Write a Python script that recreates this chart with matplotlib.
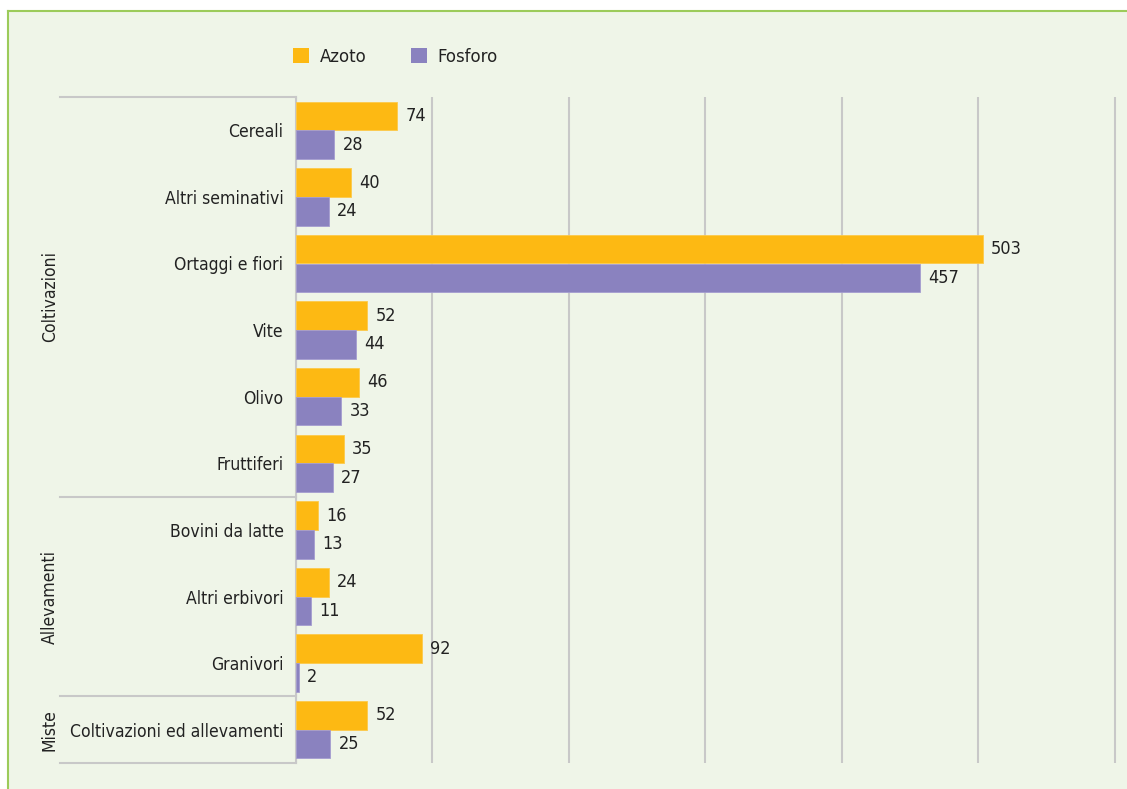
import matplotlib
matplotlib.use("Agg")
import matplotlib.pyplot as plt
import matplotlib.transforms as mtransforms
from matplotlib.patches import Rectangle, Patch
from matplotlib.lines import Line2D

plt.rcParams['font.family'] = ['Liberation Sans Narrow', 'DejaVu Sans']
plt.rcParams['font.stretch'] = 'condensed'

categories = ["Cereali", "Altri seminativi", "Ortaggi e fiori", "Vite", "Olivo",
              "Fruttiferi", "Bovini da latte", "Altri erbivori", "Granivori",
              "Coltivazioni ed allevamenti"]
azoto = [74, 40, 503, 52, 46, 35, 16, 24, 92, 52]
fosforo = [28, 24, 457, 44, 33, 27, 13, 11, 2, 25]
groups = ["Coltivazioni", "Allevamenti", "Miste"]
group_sizes = [6, 3, 1]
series_names = ["Azoto", "Fosforo"]

C_AZ = "#FDB913"
C_FO = "#8A82BF"
BG = "#EFF5E8"
GRID = "#C8C8C8"
TXT = "#222222"
FS = 12.6
FS_VAL = 13

W, H = 1127, 789
fig = plt.figure(figsize=(W / 100, H / 100), dpi=100)
fig.patch.set_facecolor("white")

# panel background with green border on top and left
fig.patches.append(Rectangle((8 / W, 0), 1, 1 - 11 / H, transform=fig.transFigure,
                             facecolor=BG, edgecolor="none", zorder=-10))
fig.lines.append(Line2D([8 / W, 1], [1 - 11 / H, 1 - 11 / H], transform=fig.transFigure,
                        color="#9CCB5A", lw=1.5))
fig.lines.append(Line2D([8 / W, 8 / W], [0, 1 - 11 / H], transform=fig.transFigure,
                        color="#9CCB5A", lw=1.5))

# x scale: 0 at 296 px, 600 at 1115 px; axes runs a little further so the
# last grid line is not clipped
px_per_unit = (1115 - 296) / 600
ax_l, ax_r = 296 / W, 1120 / W
ax_t, ax_b = 1 - 97 / H, 1 - 763 / H
ax = fig.add_axes([ax_l, ax_b, ax_r - ax_l, ax_t - ax_b])
ax.set_facecolor("none")

n = len(categories)
ys = list(range(n))
bh = 0.43
ax.barh([y - bh / 2 for y in ys], azoto, height=bh, color=C_AZ, edgecolor="#FCC94A",
        linewidth=0.6, zorder=3)
ax.barh([y + bh / 2 for y in ys], fosforo, height=bh, color=C_FO, edgecolor="#A59DD0",
        linewidth=0.6, zorder=3)

off = mtransforms.offset_copy(ax.transData, fig=fig, x=8.5, y=0, units="dots")
for y, v in zip(ys, azoto):
    ax.text(v, y - bh / 2, str(v), transform=off, va="center", ha="left",
            fontsize=FS_VAL, color=TXT)
for y, v in zip(ys, fosforo):
    ax.text(v, y + bh / 2, str(v), transform=off, va="center", ha="left",
            fontsize=FS_VAL, color=TXT)

ax.set_xlim(0, (1120 - 296) / px_per_unit)
ax.set_ylim(n - 0.5, -0.5)
ax.set_xticks(range(0, 601, 100))
ax.tick_params(axis="x", length=0, labelbottom=False)
ax.grid(axis="x", color=GRID, linewidth=1.5, zorder=0)
ax.set_yticks(ys)
ax.set_yticklabels(categories, fontsize=FS, color=TXT)
ax.tick_params(axis="y", length=0, pad=9)
for s in ["top", "right", "bottom"]:
    ax.spines[s].set_visible(False)
ax.spines["left"].set_color(GRID)
ax.spines["left"].set_linewidth(1.5)

# group separators and rotated group labels
bt = mtransforms.blended_transform_factory(fig.transFigure, ax.transData)
bounds = [-0.5]
for g in group_sizes:
    bounds.append(bounds[-1] + g)
for b in bounds:
    ax.add_line(Line2D([60 / W, ax_l], [b, b], transform=bt, color=GRID, lw=1.5,
                       clip_on=False))
for g, lo, hi in zip(groups, bounds[:-1], bounds[1:]):
    ax.text(50 / W, (lo + hi) / 2, g, transform=bt, rotation=90, ha="center",
            va="center", fontsize=FS, color=TXT)

handles = [Patch(facecolor=C_AZ, edgecolor="none"), Patch(facecolor=C_FO, edgecolor="none")]
leg_fs = 13.2
leg_px = leg_fs * 100 / 72
fig.legend(handles, series_names, loc="center left", bbox_to_anchor=(293 / W, 1 - 57 / H),
           ncol=2, frameon=False, borderpad=0, borderaxespad=0,
           handlelength=16 / leg_px, handleheight=16 / leg_px,
           handletextpad=11 / leg_px, columnspacing=44 / leg_px,
           fontsize=leg_fs, labelcolor=TXT)

fig.savefig("out.png", dpi=100, facecolor="white")
